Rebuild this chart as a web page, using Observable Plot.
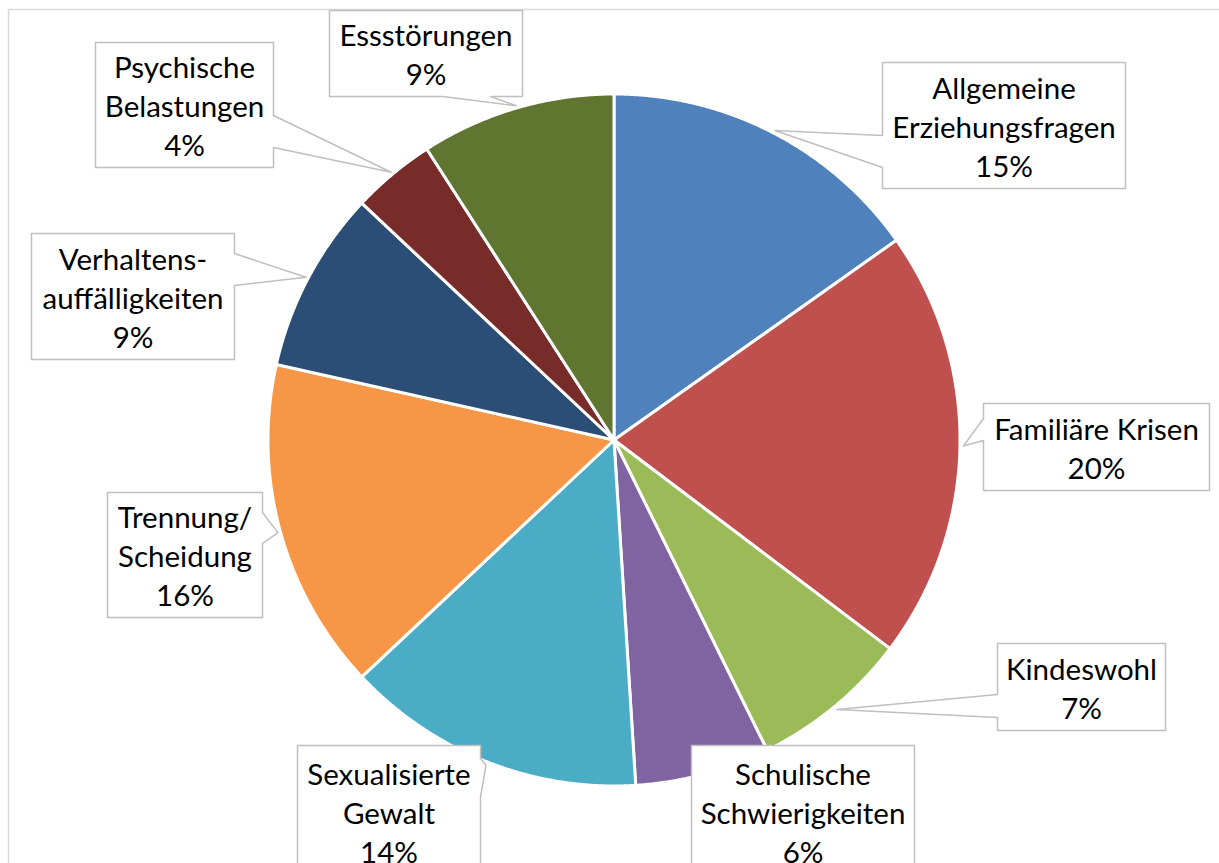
<!DOCTYPE html>
<html>
<head>
<meta charset="utf-8">
<script src="https://cdn.jsdelivr.net/npm/d3@7"></script>
<script src="https://cdn.jsdelivr.net/npm/@observablehq/plot@0.6"></script>
<style>
  html, body { margin: 0; padding: 0; background: #ffffff; }
  #chart svg { display: block; }
</style>
</head>
<body>
<div id="chart"></div>
<script>
// ---- data ----
const categories = [
  "Allgemeine Erziehungsfragen", "Familiäre Krisen", "Kindeswohl",
  "Schulische Schwierigkeiten", "Sexualisierte Gewalt", "Trennung/Scheidung",
  "Verhaltensauffälligkeiten", "Psychische Belastungen", "Essstörungen"
];
const labelNames = [
  "Allgemeine\nErziehungsfragen", "Familiäre Krisen", "Kindeswohl",
  "Schulische\nSchwierigkeiten", "Sexualisierte\nGewalt", "Trennung/\nScheidung",
  "Verhaltens-\nauffälligkeiten", "Psychische\nBelastungen", "Essstörungen"
];
const shares = [15.2, 20.1, 7.4, 6.3, 14.0, 15.5, 8.5, 3.9, 9.1];
const colors = ["#4F81BD", "#C0504D", "#9BBB59", "#8064A2", "#4BACC6", "#F79646", "#2C4D75", "#772C2A", "#5F7530"];

// ---- layout (pixels) ----
const W = 1219, H = 863;
const cx = 614, cy = 440, R = 346;
// callout boxes: [x0, y0, x1, y1, side of pointer, base start, base end]
const boxes = [
  [882, 62, 1125, 188, "left", 135, 167],
  [983, 403, 1209, 490, "left", 418, 440],
  [997, 643, 1165, 730, "left", 694, 717],
  [691, 745, 914, 877, "none", 0, 0],
  [297, 745, 480, 877, "right", 758, 797],
  [107, 492, 262, 617, "right", 512, 543],
  [31, 233, 234, 359, "right", 253, 285],
  [95, 42, 273, 167, "right", 115, 147],
  [329, 10, 522, 96, "bottom", 442, 490]
];

const total = d3.sum(shares);
const slicePts = [];
const tips = [];
let acc = 0;
shares.forEach((v, i) => {
  const a0 = acc / total * 2 * Math.PI;
  const a1 = (acc + v) / total * 2 * Math.PI;
  const n = Math.max(2, Math.ceil((a1 - a0) / (Math.PI / 720)));
  for (let k = 0; k <= n; k++) {
    const a = a0 + (a1 - a0) * k / n;
    slicePts.push({cat: categories[i], x1: cx, y1: cy, x2: cx + R * Math.sin(a), y2: cy - R * Math.cos(a)});
  }
  const am = (a0 + a1) / 2;
  tips.push([cx + (R + 3) * Math.sin(am), cy - (R + 3) * Math.cos(am)]);
  acc += v;
});

// callout outlines
const outline = [];
boxes.forEach((b, i) => {
  const [x0, y0, x1, y1, side, s0, s1] = b;
  const t = tips[i];
  const pts = [[x0, y0], [x1, y0]];
  if (side === "right") pts.push([x1, s0], t, [x1, s1]);
  pts.push([x1, y1]);
  if (side === "bottom") pts.push([s1, y1], t, [s0, y1]);
  pts.push([x0, y1]);
  if (side === "left") pts.push([x0, s1], t, [x0, s0]);
  pts.push([x0, y0]);
  pts.forEach(p => outline.push({id: i, x: p[0], y: p[1]}));
});

const labels = boxes.map((b, i) => ({
  x: (b[0] + b[2]) / 2,
  y: (b[1] + b[3]) / 2,
  text: labelNames[i] + "\n" + Math.round(shares[i] / total * 100) + "%"
}));

const fontSize = 29.5;
const chart = Plot.plot({
  width: W, height: H,
  margin: 0,
  style: {background: "#ffffff", fontFamily: "Lato, 'Open Sans', sans-serif"},
  x: {domain: [0, W], range: [0, W], axis: null},
  y: {domain: [0, H], range: [0, H], axis: null},
  color: {domain: categories, range: colors},
  marks: [
    Plot.ruleY([9], {x1: 8, x2: W, stroke: "#d9d9d9", strokeWidth: 1.5}),
    Plot.ruleX([8], {y1: 9, y2: H, stroke: "#d9d9d9", strokeWidth: 1.5}),
    Plot.area(slicePts, {x1: "x1", y1: "y1", x2: "x2", y2: "y2", z: "cat", fill: "cat", stroke: "white", strokeWidth: 3, strokeLinejoin: "round"}),
    Plot.line(outline, {x: "x", y: "y", z: "id", fill: "white", stroke: "#bfbfbf", strokeWidth: 1.5, curve: "linear"}),
    Plot.text(labels, {x: "x", y: "y", text: "text", fontSize: fontSize, lineHeight: 39 / fontSize, fill: "#000000", textAnchor: "middle"})
  ]
});
document.getElementById("chart").appendChild(chart);
</script>
</body>
</html>
